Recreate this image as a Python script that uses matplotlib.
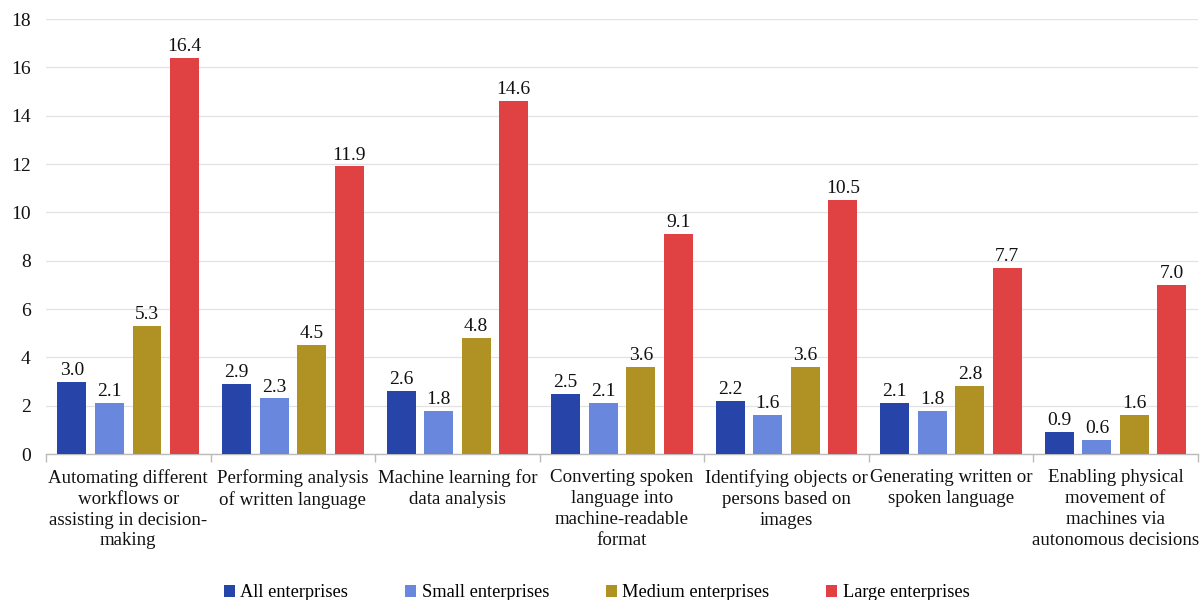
import matplotlib
matplotlib.use("Agg")
import matplotlib.pyplot as plt
import numpy as np

categories = [
    "Automating different\nworkflows or\nassisting in decision-\nmaking",
    "Performing analysis\nof written language",
    "Machine learning for\ndata analysis",
    "Converting spoken\nlanguage into\nmachine-readable\nformat",
    "Identifying objects or\npersons based on\nimages",
    "Generating written or\nspoken language",
    "Enabling physical\nmovement of\nmachines via\nautonomous decisions",
]
series_names = ["All enterprises", "Small enterprises", "Medium enterprises", "Large enterprises"]
all_ent = [3.0, 2.9, 2.6, 2.5, 2.2, 2.1, 0.9]
small_ent = [2.1, 2.3, 1.8, 2.1, 1.6, 1.8, 0.6]
medium_ent = [5.3, 4.5, 4.8, 3.6, 3.6, 2.8, 1.6]
large_ent = [16.4, 11.9, 14.6, 9.1, 10.5, 7.7, 7.0]
y_ticks = [0, 2, 4, 6, 8, 10, 12, 14, 16, 18]

colors = ["#2744A8", "#6A87DE", "#B09224", "#E04244"]

plt.rcParams["font.family"] = ["Liberation Serif", "DejaVu Serif"]

fig = plt.figure(figsize=(12.03, 6.0), dpi=100)
ax = fig.add_axes([0.0382, 0.2433, 0.9576, 0.725])

x = np.arange(len(categories))
width = 0.176
step = 0.228
offsets = [-1.5 * step, -0.5 * step, 0.5 * step, 1.5 * step]
data = [all_ent, small_ent, medium_ent, large_ent]

for vals, off, col, name in zip(data, offsets, colors, series_names):
    bars = ax.bar(x + off, vals, width=width, color=col, label=name, zorder=3)
    for b, v in zip(bars, vals):
        ax.text(b.get_x() + b.get_width() / 2, v + 0.12, f"{v:.1f}",
                ha="center", va="bottom", fontsize=14, color="#111111")

ax.set_xlim(-0.5, len(categories) - 0.5)
ax.set_ylim(0, 18)
ax.set_yticks(y_ticks)
ax.tick_params(axis="y", length=0, pad=11, labelsize=14, labelcolor="#111111")
ax.yaxis.grid(True, color="#E2E2E2", linewidth=0.9, zorder=0)
ax.set_axisbelow(True)

# group labels centered, separator ticks between groups
ax.set_xticks(x)
ax.set_xticklabels(categories, fontsize=13.6, color="#111111", linespacing=1.29)
ax.tick_params(axis="x", length=0, pad=11)
ax.set_xticks(np.arange(-0.5, len(categories)), minor=True)
ax.tick_params(axis="x", which="minor", length=6, color="#BBBBBB", width=1)

for s in ["top", "right", "left"]:
    ax.spines[s].set_visible(False)
ax.spines["bottom"].set_color("#BBBBBB")
ax.spines["bottom"].set_linewidth(1)

leg = fig.legend(loc="center", ncol=4, bbox_to_anchor=(0.496, 0.012),
                 frameon=False, fontsize=13.2, handlelength=0.6, handleheight=0.6,
                 handletextpad=0.3, columnspacing=3.1)

fig.savefig("out.png", dpi=100)
